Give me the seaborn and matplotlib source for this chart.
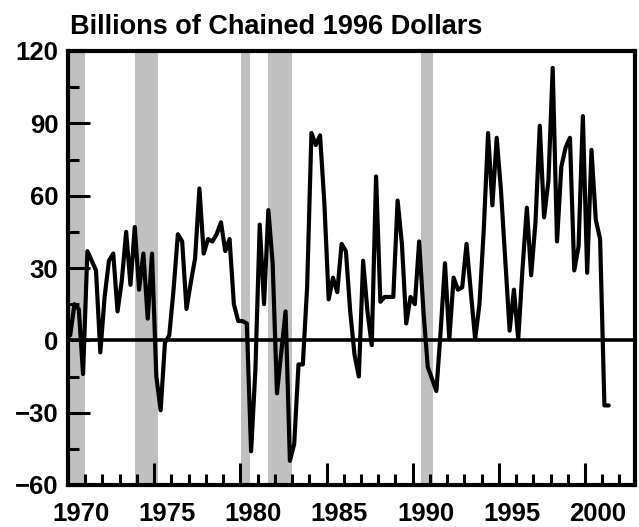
import matplotlib
matplotlib.use("Agg")
import matplotlib.pyplot as plt
import matplotlib.transforms as mtransforms
import numpy as np
import pandas as pd
import seaborn as sns

# quarterly values, 1970Q1 .. 2001Q2 (billions of chained 1996 dollars)
values = [
    2, 15, 13, -14,      # 1970
    37, 33, 29, -5,      # 1971
    18, 33, 36, 12,      # 1972
    25, 45, 23, 47,      # 1973
    21, 36, 9, 36,       # 1974
    -15, -29, -1, 2,     # 1975
    21, 44, 41, 13,      # 1976
    24, 34, 63, 36,      # 1977
    42, 41, 44, 49,      # 1978
    37, 42, 15, 8,       # 1979
    8, 7, -46, -12,      # 1980
    48, 15, 54, 32,      # 1981
    -22, -5, 12, -50,    # 1982
    -43, -10, -10, 22,   # 1983
    86, 81, 85, 57,      # 1984
    17, 26, 20, 40,      # 1985
    37, 12, -6, -15,     # 1986
    33, 12, -2, 68,      # 1987
    16, 18, 18, 18,      # 1988
    58, 40, 7, 18,       # 1989
    15, 41, 12, -11,     # 1990
    -16, -21, 4, 32,     # 1991
    0.5, 26, 21, 22,     # 1992
    40, 20, 0.5, 15,     # 1993
    46, 86, 56, 84,      # 1994
    62, 33, 4, 21,       # 1995
    0.5, 30, 55, 27,     # 1996
    49, 89, 51, 66,      # 1997
    113, 41, 72, 80,     # 1998
    84, 29, 39, 93,      # 1999
    28, 79, 50, 42,      # 2000
    -27, -27,            # 2001
]
start_year = 1970

# recession periods (shaded)
rec_start = [1969.9, 1973.88, 1980.05, 1981.6, 1990.5]
rec_end = [1970.97, 1975.22, 1980.58, 1983.0, 1991.2]

year_labels = [1970, 1975, 1980, 1985, 1990, 1995, 2000]

df = pd.DataFrame({"value": values})
df["date"] = start_year + (np.arange(len(df)) + 0.5) / 4

sns.set_style("ticks")
plt.rcParams["font.family"] = ["Liberation Sans", "DejaVu Sans"]
plt.rcParams["font.weight"] = "bold"
plt.rcParams["text.color"] = "black"
plt.rcParams["xtick.color"] = "black"
plt.rcParams["ytick.color"] = "black"
plt.rcParams["axes.edgecolor"] = "black"

fig = plt.figure(figsize=(6.39, 5.27), dpi=100)
ax = fig.add_axes([68 / 639, 1 - 485 / 527, 567 / 639, 434 / 527])

for s, e in zip(rec_start, rec_end):
    ax.axvspan(s, e, color="#c0c0c0", lw=0, zorder=0)

ax.axhline(0, color="black", lw=2.6, zorder=1)
sns.lineplot(data=df, x="date", y="value", color="black", lw=3.0, ax=ax, zorder=2)

ax.set_xlim(1970, 2002.9)
ax.set_ylim(-60, 120)
ax.set_xlabel("")
ax.set_ylabel("")

ax.set_yticks(np.arange(-60, 121, 30))
ax.set_yticks(np.arange(-45, 120, 30), minor=True)
ax.set_xticks(year_labels)
ax.set_xticklabels([str(y) for y in year_labels])
ax.set_xticks(np.arange(1970, 2003), minor=True)

ax.tick_params(which="major", direction="in", length=16, width=2.2,
               labelsize=18.5, colors="black")
ax.tick_params(axis="x", which="major", pad=12)
ax.tick_params(axis="y", which="major", pad=7)
ax.tick_params(which="minor", direction="in", length=8, width=2.2, colors="black")
for lab in ax.get_yticklabels() + ax.get_xticklabels():
    lab.set_fontweight("bold")

offset = mtransforms.ScaledTranslation(13 / 100, 0, fig.dpi_scale_trans)
for lab in ax.get_xticklabels():
    lab.set_transform(lab.get_transform() + offset)

for sp in ax.spines.values():
    sp.set_linewidth(3)
    sp.set_color("black")
    sp.set_visible(True)

fig.text(70 / 639, 1 - 34 / 527, "Billions of Chained 1996 Dollars",
         fontsize=19.5, fontweight="bold", ha="left", va="baseline", color="black")

fig.savefig("out.png", dpi=100)
